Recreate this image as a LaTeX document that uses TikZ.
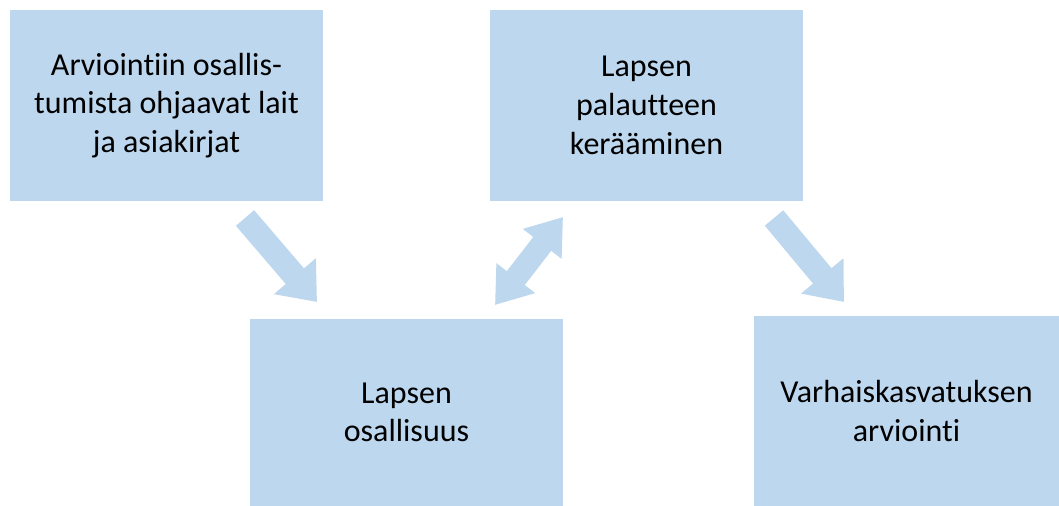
\documentclass[tikz,border=0pt]{standalone}
\usepackage{fontspec}
\setmainfont[Ligatures=NoCommon]{Carlito}
\usepackage{tikz}
\usetikzlibrary{arrows.meta, positioning, calc}
\definecolor{boxblue}{HTML}{BDD7EE}
\tikzset{
    box/.style={fill=boxblue, draw=none, align=center, inner sep=0pt,
        font=\fontsize{24}{29}\selectfont},
    bigarrow/.style={draw=boxblue, line width=18pt,
        -{Triangle[width=39.75pt, length=25.5pt]}},
    twoarrow/.style={draw=boxblue, line width=17pt,
        {Triangle[width=35pt, length=25.5pt]}-{Triangle[width=35pt, length=25.5pt]}}
}
\begin{document}
\begin{tikzpicture}[x=0.75pt, y=-0.75pt]
    \useasboundingbox (0,0) rectangle (1059,506);
    \node[box, minimum width=234.75pt, minimum height=143.25pt] (lait) at (166.5,105.5)
        {Arviointiin osallis-\\tumista ohjaavat lait\\ja asiakirjat};
    \node[box, minimum width=234.75pt, minimum height=143.25pt] (palaute) at (646.5,105.5)
        {Lapsen\\palautteen\\kerääminen};
    \node[box, minimum width=234.75pt, minimum height=140.25pt] (osallisuus) at (406.5,412.5)
        {Lapsen\\osallisuus};
    \node[box, minimum width=228.75pt, minimum height=142.5pt] (arviointi) at (906.5,411)
        {Varhaiskasvatuksen\\arviointi};
    % arrow ends, kept off the boxes
    \coordinate (lait-out) at (245,218);
    \coordinate (osa-in) at (317,302);
    \coordinate (osa-out) at (495,305);
    \coordinate (pal-in) at (563,217);
    \coordinate (pal-out) at (774,218);
    \coordinate (arv-in) at (844,302);
    \draw[bigarrow] (lait-out) -- (osa-in);
    \draw[twoarrow] (osa-out) -- (pal-in);
    \draw[bigarrow] (pal-out) -- (arv-in);
\end{tikzpicture}
\end{document}
